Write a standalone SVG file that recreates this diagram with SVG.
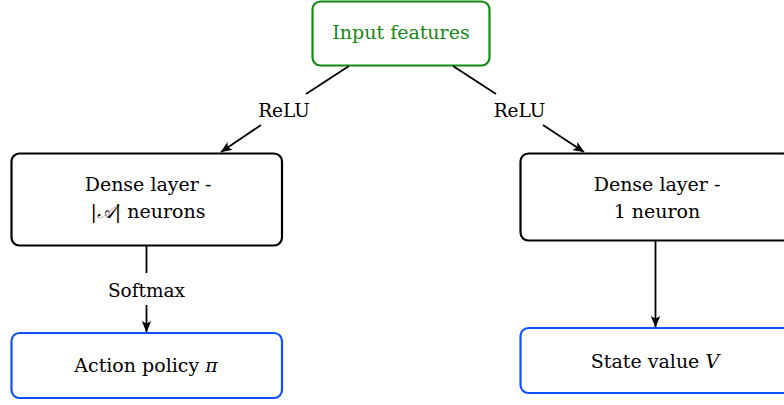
<svg xmlns="http://www.w3.org/2000/svg" width="784" height="405" viewBox="0 0 784 405">
  <style>
    .box { fill: #ffffff; stroke-width: 2.2; }
    .plain { stroke: #000000; }
    .input { stroke: #138a13; }
    .output { stroke: #1150ff; }
    text { font-family: "DejaVu Serif", "Liberation Serif", serif; font-size: 19px; fill: #000000; text-anchor: middle; }
    .green { fill: #138a13; }
    .lbl { font-size: 18.5px; }
    .m { font-style: italic; }
    .edge { stroke: #000000; stroke-width: 1.8; fill: none; }
  </style>
  <defs>
    <marker id="arrow" markerWidth="13" markerHeight="11" refX="11" refY="5.5" orient="auto" markerUnits="userSpaceOnUse">
      <path d="M0,0.8 L11.5,5.5 L0,10.2 L2.8,5.5 Z" fill="#000000"/>
    </marker>
  </defs>

  <g id="input-features">
    <rect class="box input" x="312.5" y="1.5" width="177" height="64" rx="8"/>
    <text class="green" x="401" y="39">Input features</text>
  </g>

  <g id="dense-policy">
    <rect class="box plain" x="11.5" y="153.5" width="270.5" height="92" rx="8"/>
    <text x="148" y="191">Dense layer -</text>
    <text x="148" y="218">|<tspan class="m">𝒜</tspan>| neurons</text>
  </g>

  <g id="dense-value">
    <rect class="box plain" x="520.5" y="153.5" width="270" height="87" rx="8"/>
    <text x="657" y="191">Dense layer -</text>
    <text x="657" y="218">1 neuron</text>
  </g>

  <g id="action-policy">
    <rect class="box output" x="11.5" y="333" width="270.5" height="65" rx="8"/>
    <text x="146" y="372">Action policy <tspan class="m">π</tspan></text>
  </g>

  <g id="state-value">
    <rect class="box output" x="520.5" y="328" width="270" height="65" rx="8"/>
    <text x="655" y="368">State value <tspan class="m">V</tspan></text>
  </g>

  <g id="connectors">
    <!-- input -> policy branch -->
    <line class="edge" x1="349" y1="66" x2="306" y2="94"/>
    <line class="edge" x1="261" y1="125" x2="221" y2="152" marker-end="url(#arrow)"/>
    <text class="lbl" x="284" y="117">ReLU</text>
    <!-- input -> value branch -->
    <line class="edge" x1="453" y1="66" x2="496" y2="94"/>
    <line class="edge" x1="543" y1="125" x2="584" y2="152" marker-end="url(#arrow)"/>
    <text class="lbl" x="519.5" y="117">ReLU</text>
    <!-- policy dense -> action policy -->
    <line class="edge" x1="146.5" y1="246" x2="146.5" y2="273"/>
    <line class="edge" x1="146.5" y1="305" x2="146.5" y2="332" marker-end="url(#arrow)"/>
    <text class="lbl" x="146.5" y="297">Softmax</text>
    <!-- value dense -> state value -->
    <line class="edge" x1="655.5" y1="241" x2="655.5" y2="327" marker-end="url(#arrow)"/>
  </g>
</svg>
